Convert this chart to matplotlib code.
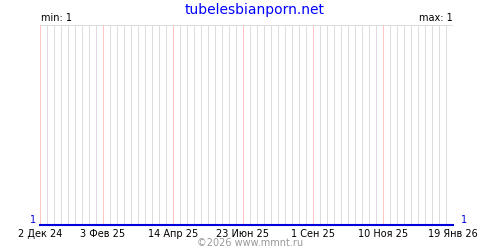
import pandas as pd
import matplotlib
matplotlib.use('Agg')
import matplotlib.pyplot as plt

# Chart data
site_title = 'tubelesbianporn.net'
start_date = '2024-12-02'
end_date = '2026-01-19'
week_dates = pd.date_range(start_date, end_date, freq='7D')
values = [1, 1, 1, 1, 1, 1, 1, 1, 1, 1,
          1, 1, 1, 1, 1, 1, 1, 1, 1, 1,
          1, 1, 1, 1, 1, 1, 1, 1, 1, 1,
          1, 1, 1, 1, 1, 1, 1, 1, 1, 1,
          1, 1, 1, 1, 1, 1, 1, 1, 1, 1,
          1, 1, 1, 1, 1, 1, 1, 1, 1, 1]
tick_dates = ['2024-12-02', '2025-02-03', '2025-04-14', '2025-06-23',
              '2025-09-01', '2025-11-10', '2026-01-19']
tick_labels = ['2 Дек 24', '3 Фев 25', '14 Апр 25', '23 Июн 25',
               '1 Сен 25', '10 Ноя 25', '19 Янв 26']

def main():
    fig = plt.figure(figsize=(5, 2.5), dpi=100)
    ax = fig.add_axes([0.08, 0.1, 0.826, 0.8])

    vals = values[:len(week_dates)]
    lo, hi = min(vals), max(vals)
    # flat series sits on the bottom edge
    ax.set_ylim(lo, hi + 1 if hi == lo else hi)
    ax.set_xlim(pd.Timestamp(start_date), pd.Timestamp(end_date))

    # weekly grid, pink instead of gray at the labelled dates (1 px, crisp)
    ticks = [pd.Timestamp(d) for d in tick_dates]
    for d in week_dates:
        if d in ticks:
            ax.axvline(d, color='#ffc4c4', lw=0.6, zorder=2, antialiased=False)
        else:
            ax.axvline(d, color='#dddddd', lw=0.6, zorder=1, antialiased=False)
    ax.axhline(ax.get_ylim()[1], color='#dddddd', lw=0.6, zorder=1, antialiased=False)

    ax.plot(week_dates, vals, color='#0000dd', lw=1.5, zorder=3, clip_on=False)

    for s in ax.spines.values():
        s.set_visible(False)
    ax.set_yticks([])
    ax.set_xticks(ticks)
    ax.set_xticklabels(tick_labels, fontsize=7)
    ax.tick_params(axis='x', length=0, pad=3)

    fig.text(0.51, 0.96, site_title, color='#0000ff', fontsize=10, ha='center', va='center')
    ax.text(0.002, 1.01, 'min: %d' % lo, transform=ax.transAxes, fontsize=7, ha='left', va='bottom')
    ax.text(1.0, 1.01, 'max: %d' % hi, transform=ax.transAxes, fontsize=7, ha='right', va='bottom')
    fig.text(0.073, 0.1, str(vals[0]), color='#0000dd', fontsize=7, ha='right', va='bottom')
    fig.text(0.922, 0.1, str(vals[-1]), color='#0000dd', fontsize=7, ha='left', va='bottom')
    fig.text(0.5, 0.028, '©2026 www.mmnt.ru', color='#999999', fontsize=7, ha='center', va='center')

    fig.savefig('out.png', dpi=100)
    plt.close(fig)

if __name__ == '__main__':
    main()
